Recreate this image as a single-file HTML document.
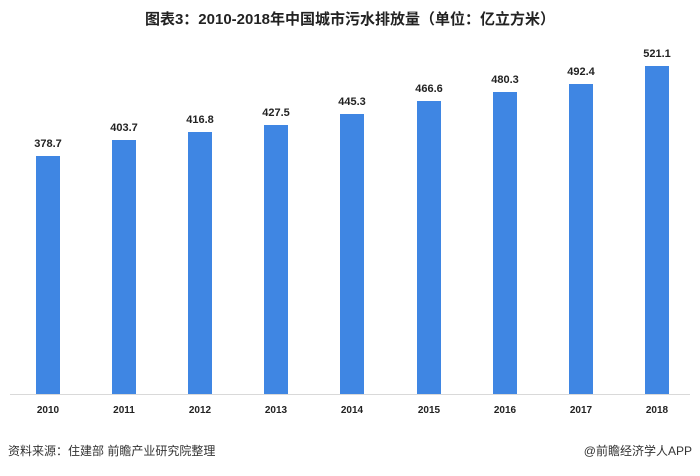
<!DOCTYPE html>
<html><head><meta charset="utf-8"><style>
body{margin:0;width:700px;height:471px;background:#fff;overflow:hidden;font-family:"Liberation Sans","Noto Sans CJK SC",sans-serif}
</style></head><body>
<svg width="700" height="471" xmlns="http://www.w3.org/2000/svg" font-family="Liberation Sans, Noto Sans CJK SC, sans-serif">
<text x="350" y="24" text-anchor="middle" font-size="15" font-weight="bold" fill="#222">图表3：2010-2018年中国城市污水排放量（单位：亿立方米）</text>
<line x1="10" y1="394.5" x2="690" y2="394.5" stroke="#d9d9d9" stroke-width="1"/>
<g fill="#3f86e3">
<rect x="36" y="156" width="24" height="238"/>
<rect x="112" y="140" width="24" height="254"/>
<rect x="188" y="132" width="24" height="262"/>
<rect x="264" y="125" width="24" height="269"/>
<rect x="340" y="114" width="24" height="280"/>
<rect x="417" y="101" width="24" height="293"/>
<rect x="493" y="92" width="24" height="302"/>
<rect x="569" y="84" width="24" height="310"/>
<rect x="645" y="66" width="24" height="328"/>
</g>
<g font-size="11" font-weight="bold" fill="#222" text-anchor="middle">
<text x="48" y="147">378.7</text>
<text x="124" y="131">403.7</text>
<text x="200" y="123">416.8</text>
<text x="276" y="116">427.5</text>
<text x="352" y="105">445.3</text>
<text x="429" y="92">466.6</text>
<text x="505" y="83">480.3</text>
<text x="581" y="75">492.4</text>
<text x="657" y="57">521.1</text>
<g font-size="10">
<text x="48" y="413">2010</text><text x="124" y="413">2011</text><text x="200" y="413">2012</text>
<text x="276" y="413">2013</text><text x="352" y="413">2014</text><text x="429" y="413">2015</text>
<text x="505" y="413">2016</text><text x="581" y="413">2017</text><text x="657" y="413">2018</text>
</g>
</g>
<text x="8" y="455" font-size="12" fill="#333">资料来源：住建部 前瞻产业研究院整理</text>
<text x="692" y="455" font-size="12" fill="#333" text-anchor="end">@前瞻经济学人APP</text>
</svg>
</body></html>
